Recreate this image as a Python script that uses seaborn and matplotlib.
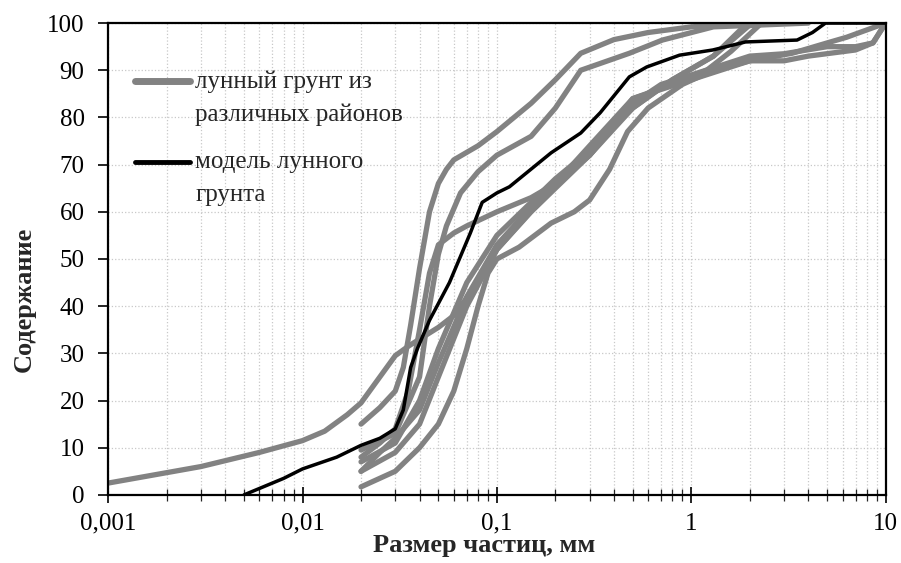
import numpy as np
import pandas as pd
import matplotlib
matplotlib.use("Agg")
import matplotlib.pyplot as plt
from matplotlib.lines import Line2D
import seaborn as sns

sns.set_style("white")
plt.rcParams['font.family'] = ['Liberation Serif', 'DejaVu Serif']

# lunar soil samples from different regions (particle size, mm -> content, %)
g1_x = [0.001, 0.003, 0.006, 0.01, 0.013, 0.017, 0.02, 0.025, 0.03, 0.035, 0.04, 0.05, 0.06, 0.08, 0.1, 0.15, 0.2, 0.3, 0.5, 0.8, 1.3, 1.9, 2]
g1_y = [2.5, 6, 9, 11.5, 13.5, 17, 19.5, 25, 29.5, 31.5, 33, 35.5, 38, 45, 52, 60, 65, 72, 82, 88, 93, 99.6, 100]
g2_x = [0.02, 0.025, 0.03, 0.033, 0.036, 0.04, 0.045, 0.05, 0.055, 0.06, 0.08, 0.1, 0.15, 0.2, 0.27, 0.4, 0.6, 1, 2]
g2_y = [15, 18.5, 22, 27, 36, 48, 60, 66, 69, 71, 74, 77, 83, 88, 93.6, 96.5, 98, 99.2, 100]
g3_x = [0.02, 0.025, 0.03, 0.035, 0.04, 0.045, 0.05, 0.06, 0.07, 0.1, 0.15, 0.2, 0.3, 0.4, 0.5, 0.7, 1, 2, 3, 5, 7, 8.6, 10]
g3_y = [8, 11, 14, 22, 35, 47, 53, 55.5, 57, 60, 63, 66, 72, 78, 83, 87, 89, 93, 93.5, 95, 95, 95.8, 100]
g4_x = [0.02, 0.03, 0.04, 0.045, 0.05, 0.055, 0.065, 0.08, 0.1, 0.15, 0.2, 0.27, 0.48, 0.71, 1.3, 2, 4]
g4_y = [9.5, 13, 25, 40, 51, 57, 64, 68.5, 72, 76, 82, 90, 93.6, 96.4, 99.2, 99.5, 100]
g5_x = [0.02, 0.03, 0.04, 0.05, 0.07, 0.1, 0.15, 0.2, 0.3, 0.5, 0.8, 1.3, 2]
g5_y = [7, 11, 20, 31, 45, 55, 62, 67, 73, 82, 88, 93, 99.6]
g6_x = [0.02, 0.025, 0.03, 0.04, 0.05, 0.07, 0.1, 0.15, 0.2, 0.3, 0.5, 0.8, 1.2, 1.6, 2.3]
g6_y = [5, 9, 12, 18, 28, 42, 53, 61, 66, 72, 84, 87, 90, 94, 100]
g7_x = [0.02, 0.03, 0.04, 0.05, 0.07, 0.1, 0.2, 0.3, 0.5, 1, 2, 3.3, 5, 6.3, 10]
g7_y = [5, 9, 15, 25, 40, 52, 66, 74, 84, 88, 92, 93.6, 95.8, 97, 100]
g8_x = [0.02, 0.03, 0.04, 0.05, 0.06, 0.07, 0.08, 0.09, 0.1, 0.13, 0.19, 0.25, 0.3, 0.38, 0.47, 0.6, 0.9, 1.3, 2, 3, 4, 7, 8.6, 10]
g8_y = [1.7, 5, 10, 15, 22, 31, 40, 47, 50, 52.5, 57.6, 60, 62.5, 69, 77, 82, 87, 90, 92, 92, 93, 94.3, 95.8, 100]

# lunar soil model
model_x = [0.005, 0.008, 0.01, 0.015, 0.02, 0.025, 0.03, 0.033, 0.036, 0.039, 0.045, 0.057, 0.073, 0.084,
           0.1, 0.116, 0.19, 0.27, 0.34, 0.48, 0.59, 0.87, 1.29, 1.9, 3.5, 4.2, 4.9, 10]
model_y = [0, 3.5, 5.5, 8, 10.5, 12, 14, 18, 27, 31, 37, 45, 55.5, 62,
           64, 65.3, 72.5, 76.7, 81, 88.6, 90.7, 93.2, 94.3, 96, 96.4, 98, 100, 100]

x_ticks = [0.001, 0.01, 0.1, 1, 10]
x_tick_labels = ['0,001', '0,01', '0,1', '1', '10']
y_ticks = list(range(0, 101, 10))

samples = [(g1_x, g1_y), (g2_x, g2_y), (g3_x, g3_y), (g4_x, g4_y),
           (g5_x, g5_y), (g6_x, g6_y), (g7_x, g7_y), (g8_x, g8_y)]
gray_df = pd.concat([pd.DataFrame({'size': sx, 'content': sy, 'curve': i})
                     for i, (sx, sy) in enumerate(samples)], ignore_index=True)
model_df = pd.DataFrame({'size': model_x, 'content': model_y})

fig = plt.figure(figsize=(9.01, 5.63), dpi=100)
ax = fig.add_axes([0.12, 0.121, 0.863, 0.838])

sns.lineplot(data=gray_df, x='size', y='content', units='curve', estimator=None,
             color='#828282', linewidth=3.8, ax=ax, legend=False)
sns.lineplot(data=model_df, x='size', y='content', color='black', linewidth=2.5,
             ax=ax, legend=False)

ax.set_xscale('log')
ax.set_xlim(0.001, 10)
ax.set_ylim(0, 100)
ax.set_xticks(x_ticks)
ax.set_xticklabels(x_tick_labels)
ax.set_yticks(y_ticks)
ax.grid(True, which='major', color='#c8c8c8', linestyle=':', linewidth=0.9)
ax.grid(True, which='minor', axis='x', color='#c8c8c8', linestyle=':', linewidth=0.9)
for s in ax.spines.values():
    s.set_linewidth(1.6)
    s.set_color('black')
ax.tick_params(axis='x', which='major', direction='inout', length=12, width=1.2,
               pad=7, labelsize=18, colors='black', bottom=True)
ax.tick_params(axis='x', which='minor', direction='inout', length=9, width=0.9, bottom=True)
ax.tick_params(axis='y', which='major', direction='out', length=7, width=1.2,
               pad=10, labelsize=18, colors='black', left=True)
ax.set_xlabel('Размер частиц, мм', fontsize=19, fontweight='bold')
ax.set_ylabel('Содержание', fontsize=19, fontweight='bold')
ax.xaxis.set_label_coords(0.484, -0.082)
ax.yaxis.set_label_coords(-0.093, 0.415)

handles = [Line2D([], [], color='#828282', linewidth=5),
           Line2D([], [], color='black', linewidth=3.5)]
leg = ax.legend(handles, ['лунный грунт из\nразличных районов', 'модель лунного\nгрунта'],
                loc='upper left', bbox_to_anchor=(0.006, 0.948), frameon=False,
                fontsize=18, handlelength=2.2, handletextpad=0.2, labelspacing=1.0)
for t in leg.get_texts():
    t.set_linespacing(1.63)
# put each legend line level with the first line of its two-line label
for h in leg.legend_handles:
    h.set_ydata(np.asarray(h.get_ydata()) + 11.9)

fig.savefig('out.png', dpi=100)
